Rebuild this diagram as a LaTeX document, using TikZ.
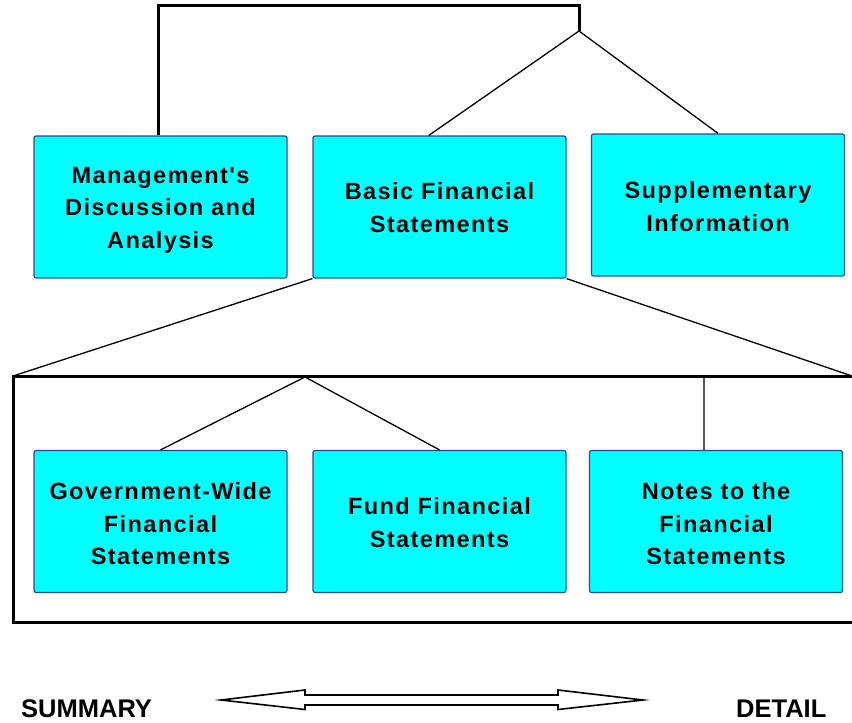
\documentclass[tikz,border=0pt]{standalone}
\usepackage{fontspec}
\setmainfont{Liberation Sans}
\newfontfamily\boxfont[LetterSpace=6]{Liberation Sans}
\usetikzlibrary{calc}
\definecolor{boxfill}{RGB}{0,255,255}
\definecolor{boxline}{RGB}{40,75,150}
\begin{document}
\begin{tikzpicture}[x=1pt,y=-1pt,
  fbox/.style={draw=boxline,fill=boxfill,line width=1.2pt,rounded corners=2pt,
    minimum width=253pt,minimum height=142pt,inner sep=0pt},
  txt/.style={inner sep=0pt,align=center,
    font=\boxfont\bfseries\fontsize{23.5}{32.5}\selectfont},
  thinline/.style={line width=1.3pt},
  endlabel/.style={anchor=base west,inner sep=0pt,font=\bfseries\fontsize{25.5}{28}\selectfont}]
\useasboundingbox (0,0) rectangle (852,723);
% boxes
\node[fbox] (mgmt)  at (160.5,207) {};
\node[fbox] (basic) at (439.5,207) {};
\node[fbox] (supp)  at (718,205)   {};
\node[fbox] (gov)   at (160.5,521.5) {};
\node[fbox] (fund)  at (439.5,521.5) {};
\node[fbox] (notes) at (716,521.5) {};
% box texts
\node[txt] (mgmt-t)  at ($(mgmt.center)+(0,3)$)  {Management's\\Discussion and\\Analysis};
\node[txt] (basic-t) at ($(basic.center)+(0,0.5)$) {Basic Financial\\Statements};
\node[txt] (supp-t)  at ($(supp.center)+(0,1.5)$)  {Supplementary\\Information};
\node[txt] (gov-t)   at ($(gov.center)+(0,2.5)$)   {Government-Wide\\Financial\\Statements};
\node[txt] (fund-t)  at ($(fund.center)+(0,1)$)  {Fund Financial\\Statements};
\node[txt] (notes-t) at ($(notes.center)+(0,2.5)$) {Notes to the\\Financial\\Statements};
% top connectors
\coordinate (tl) at (158,5);
\coordinate (tr) at (579,5);
\coordinate (j)  at (579,31);
\draw[line width=3pt] (mgmt.north -| tl) -- (tl) -- (tr) -- (j);
\draw[thinline] (j) -- ($(basic.north west)!0.458!(basic.north east)$);
\draw[thinline] (j) -- (supp.north);
% big frame
\coordinate (fl) at (13,376);
\coordinate (fr) at (852,376);
\coordinate (fbl) at (13,622);
\coordinate (fbr) at (860,622);
\draw[line width=3pt] (860,376) -- (fl) -- (fbl) -- (fbr);
\draw[thinline] (basic.south west) -- (fl);
\draw[thinline] (basic.south east) -- (fr);
% lower connectors
\coordinate (k) at (305,377);
\draw[thinline] (k) -- (gov.north);
\draw[thinline] (k) -- (fund.north);
\coordinate (n) at (704,377);
\draw[thinline] (n) -- ($(notes.north west)!0.453!(notes.north east)$);
% double arrow
\draw[line width=1.6pt,line join=miter,fill=white]
  (221,700) -- (305,690) -- (305,695) -- (558,695) -- (558,690) -- (643,700)
  -- (558,709.5) -- (558,705) -- (305,705) -- (305,709.5) -- cycle;
\node[endlabel] (summary) at (21,717) {SUMMARY};
\node[endlabel] (detail) at (736,717) {DETAIL};
\end{tikzpicture}
\end{document}
